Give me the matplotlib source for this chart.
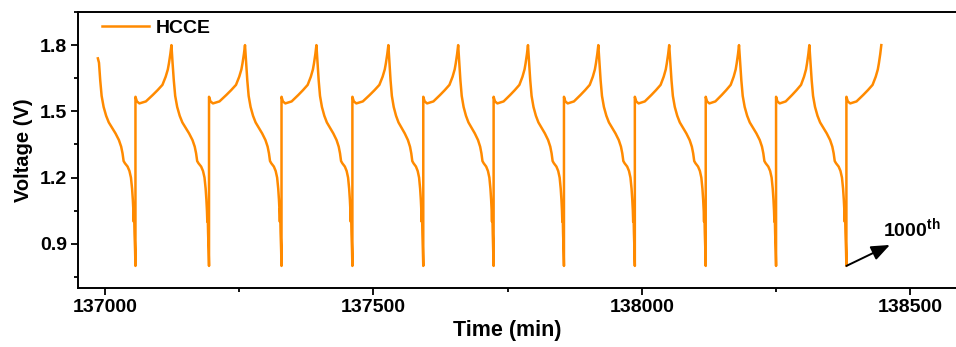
import matplotlib.pyplot as plt
from matplotlib.ticker import MultipleLocator

plt.rcParams['font.family'] = ['Liberation Sans', 'DejaVu Sans']
plt.rcParams['font.weight'] = 'bold'
plt.rcParams['mathtext.fontset'] = 'custom'
plt.rcParams['mathtext.bf'] = 'Liberation Sans:bold'

# first recorded point
start_t, start_v = 136987, 1.74
# times of the 0.8 V minima and of the 1.8 V peaks (min)
min_t = [137057, 137194, 137329, 137461, 137593, 137724, 137855, 137987, 138119, 138250, 138381]
peak_t = [137124, 137261, 137394, 137528, 137658, 137788, 137919, 138051, 138181, 138312, 138446]

# discharge shape: fraction of the step duration vs voltage
dis_f = [0, 0.03, 0.063, 0.10, 0.153, 0.22, 0.29, 0.38, 0.47, 0.56, 0.62, 0.656, 0.685,
         0.72, 0.79, 0.84, 0.88, 0.91, 0.93, 0.945, 0.955, 0.962, 0.975, 0.99, 1.0]
dis_v = [1.80, 1.72, 1.64, 1.57, 1.52, 1.48, 1.45, 1.425, 1.40, 1.37, 1.34, 1.31, 1.275,
         1.265, 1.25, 1.23, 1.20, 1.15, 1.10, 1.05, 1.00, 1.06, 0.95, 0.87, 0.80]
# charge shape
chg_f = [0.0, 0.04, 0.11, 0.29, 0.48, 0.615, 0.75, 0.84, 0.90, 0.93, 0.97, 1.0]
chg_v = [1.566, 1.545, 1.536, 1.545, 1.574, 1.596, 1.62, 1.657, 1.69, 1.717, 1.76, 1.80]

time, volt = [start_t], [start_v]
for i in range(len(min_t)):
    t0 = start_t if i == 0 else peak_t[i - 1]
    d = min_t[i] - t0
    for f, v in zip(dis_f[1:], dis_v[1:]):
        time.append(t0 + f * d)
        volt.append(v)
    d = peak_t[i] - min_t[i]
    for f, v in zip(chg_f, chg_v):
        time.append(min_t[i] + f * d)
        volt.append(v)

fig = plt.figure(figsize=(9.56, 3.47), dpi=100)
ax = fig.add_axes([78 / 956, 1 - 288 / 347, 886 / 956, 276 / 347])

ax.plot(time, volt, color='#ff8a00', lw=1.8, label='HCCE')

# arrow marking the 1000th cycle
ax.annotate('', xy=(138462, 0.895), xytext=(min_t[-1], 0.80),
            arrowprops=dict(arrowstyle='-|>,head_length=0.8,head_width=0.32', color='black',
                            lw=1.4, mutation_scale=14, shrinkA=0, shrinkB=0))
ax.text(138449, 0.931, r'1000$^{\mathbf{th}}$', fontsize=14, fontweight='bold', va='baseline')

ax.set_xlim(136950, 138600)
ax.set_ylim(0.70, 1.95)
ax.xaxis.set_major_locator(MultipleLocator(500))
ax.xaxis.set_minor_locator(MultipleLocator(250))
ax.yaxis.set_major_locator(MultipleLocator(0.3))
ax.yaxis.set_minor_locator(MultipleLocator(0.15))
ax.yaxis.set_major_formatter(plt.FuncFormatter(lambda v, p: f'{v:.1f}'))

ax.tick_params(axis='both', which='major', direction='out', length=5, width=1.3)
ax.tick_params(axis='both', which='minor', direction='out', length=3, width=1.3)
ax.tick_params(axis='x', labelsize=14, pad=3)
ax.tick_params(axis='y', labelsize=14, pad=3)
for s in ax.spines.values():
    s.set_linewidth(1.4)
ax.spines['right'].set_visible(False)

ax.set_xlabel('Time (min)', fontsize=15.5, fontweight='bold')
ax.xaxis.set_label_coords(0.485, -0.115)
ax.set_ylabel('Voltage (V)', fontsize=14.5, fontweight='bold', labelpad=5)

ax.legend(loc='upper left', bbox_to_anchor=(0.027, 0.975), frameon=False,
          handlelength=2.4, handletextpad=0.35, borderpad=0, borderaxespad=0,
          prop={'weight': 'bold', 'size': 14})

fig.savefig('out.png', dpi=100)
